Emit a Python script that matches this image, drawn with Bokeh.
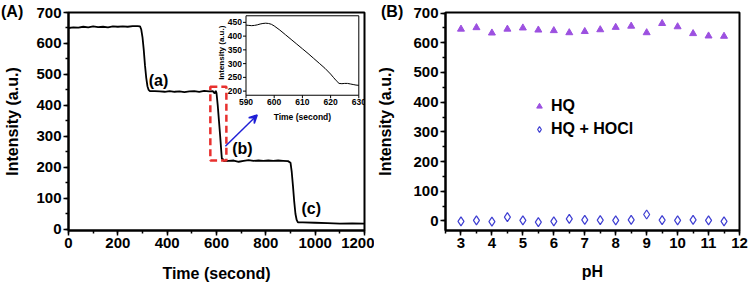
import math
from bokeh.plotting import figure
from bokeh.models import (Range1d, Legend, LegendItem, Arrow, VeeHead,
                          SingleIntervalTicker, GridBox, Div)
from bokeh.core.properties import value
from bokeh.embed import file_html
from bokeh.resources import INLINE

FONT = "Liberation Sans"

# ---------------- data: panel A (time scan) ----------------
time_s = [0, 20, 40, 60, 80, 100, 120, 140, 160, 180, 200, 220, 240, 260, 280, 290,
          295, 300, 305, 310, 315, 320, 325, 330, 350, 370, 390, 410, 430, 450, 470,
          490, 510, 530, 550, 570, 585, 590, 593, 597, 600, 605, 610, 615, 620, 622,
          625, 630, 650, 670, 690, 710, 730, 750, 770, 790, 810, 830, 850, 870, 890,
          900, 905, 910, 915, 920, 925, 930, 950, 1000, 1050, 1100, 1150, 1200]
intensity = [650, 652, 651, 654, 652, 655, 653, 654, 652, 655, 654, 655, 654, 656, 656, 655,
             645, 620, 580, 530, 490, 462, 450, 446, 446, 445, 444, 446, 444, 445, 443,
             445, 446, 444, 447, 445, 446, 441, 439, 447, 440, 400, 350, 300, 245, 226,
             228, 220, 221, 222, 218, 221, 223, 221, 222, 221, 222, 221, 222, 221, 220,
             215, 185, 140, 90, 50, 30, 22, 22, 21, 20, 18, 19, 18]

# inset data (590-630 s)
inset_t = [590, 591, 592, 593, 594, 595, 596, 597, 598, 599, 600, 602, 604, 606, 608,
           610, 612, 614, 616, 618, 620, 621, 622, 623, 624, 625, 626, 627, 628, 629, 630]
inset_i = [440, 439, 438, 439, 441, 444, 446, 447, 446, 443, 437, 422, 405, 388, 371,
           354, 337, 319, 301, 283, 262, 250, 238, 228, 227, 228, 228, 226, 224, 222, 221]
inset_xticks = [590, 600, 610, 620, 630]
inset_yticks = [200, 250, 300, 350, 400, 450]

curve_labels = ["(a)", "(b)", "(c)"]
curve_label_x = [365, 705, 984]
curve_label_y = [482, 262, 66]

# ---------------- data: panel B (pH) ----------------
ph = [3, 3.5, 4, 4.5, 5, 5.5, 6, 6.5, 7, 7.5, 8, 8.5, 9, 9.5, 10, 10.5, 11, 11.5]
hq = [646, 651, 633, 646, 650, 643, 641, 634, 638, 644, 652, 656, 634, 665, 654, 631, 623, 622]
hq_hocl = [-1, 2, -2, 13, 2, -4, -1, 7, 4, 3, 2, 4, 22, 3, 2, 4, 2, -1]

panel_letters = ["(A)", "(B)"]


def style(p):
    p.xgrid.visible = False
    p.ygrid.visible = False
    p.outline_line_color = "black"
    p.outline_line_width = 2
    p.outline_line_alpha = 1
    p.background_fill_color = "white"
    p.border_fill_color = None
    for ax in p.axis:
        ax.axis_line_width = 2
        ax.axis_line_color = "black"
        ax.major_tick_line_width = 1.5
        ax.minor_tick_line_width = 1.5
        ax.major_tick_line_color = "black"
        ax.minor_tick_line_color = "black"
        ax.major_tick_in = 0
        ax.major_tick_out = 5
        ax.minor_tick_in = 0
        ax.minor_tick_out = 3
        ax.major_label_text_font = FONT
        ax.major_label_text_font_style = "bold"
        ax.major_label_text_font_size = "15px"
        ax.major_label_text_color = "black"
        ax.major_label_standoff = 2
        ax.axis_label_text_font = FONT
        ax.axis_label_text_font_style = "bold"
        ax.axis_label_text_font_size = "16px"
        ax.axis_label_text_color = "black"


# ---------------- panel A ----------------
FW, FH = 296, 220
p1 = figure(width=374, height=284, output_backend="svg", toolbar_location=None,
            x_range=Range1d(0, 1200), y_range=Range1d(-4, 700),
            min_border_left=68, min_border_right=10, min_border_top=10, min_border_bottom=54)
style(p1)
p1.xaxis.ticker = SingleIntervalTicker(interval=200, num_minor_ticks=2)
p1.yaxis.ticker = SingleIntervalTicker(interval=100, num_minor_ticks=2)
p1.xaxis.axis_label = "Time (second)"
p1.yaxis.axis_label = "Intensity (a.u.)"
p1.xaxis.axis_label_standoff = 14
p1.yaxis.axis_label_standoff = 12

p1.line(time_s, intensity, line_color="black", line_width=1.8)

# zoom box
p1.quad(left=[575], right=[640], bottom=[222], top=[460], fill_color=None,
        line_color="#e8302e", line_width=2.5, line_dash="7 4")

p1.text(x=curve_label_x, y=curve_label_y, text=curve_labels,
        text_font=value(FONT), text_font_style="bold", text_font_size="16px",
        text_align="center", text_baseline="middle", text_color="black")

p1.add_layout(Arrow(end=VeeHead(size=8, line_color="#1f1fd6", fill_color="#1f1fd6", line_width=1.5),
                    x_start=636, y_start=268, x_end=765, y_end=369,
                    line_color="#1f1fd6", line_width=1.5))

# inset placed through extra ranges (pixel box inside the frame)
IL, IR, IT, IB = 177.5, 290.3, 3.3, 83.5  # px from frame top-left
ix0, ix1 = inset_t[0], inset_t[-1]
iy0, iy1 = 185, 474
sx = (ix1 - ix0) / (IR - IL)
sy = (iy1 - iy0) / (IB - IT)
p1.extra_x_ranges = {"ix": Range1d(ix0 - IL * sx, ix1 + (FW - IR) * sx)}
p1.extra_y_ranges = {"iy": Range1d(iy0 - (FH - IB) * sy, iy1 + IT * sy)}
kw = dict(x_range_name="ix", y_range_name="iy")

p1.quad(left=[ix0], right=[ix1], bottom=[iy0], top=[iy1], fill_color="white",
        line_color="black", line_width=1, **kw)
p1.line(inset_t, inset_i, line_color="black", line_width=1, **kw)
p1.ray(x=inset_xticks, y=[iy0] * len(inset_xticks), length=3, length_units="screen",
       angle=-math.pi / 2, line_color="black", line_width=1, **kw)
p1.ray(x=[ix0] * len(inset_yticks), y=inset_yticks, length=3, length_units="screen",
       angle=math.pi, line_color="black", line_width=1, **kw)
p1.text(x=inset_xticks, y=[iy0] * len(inset_xticks), text=[str(v) for v in inset_xticks],
        y_offset=4, text_align="center", text_baseline="top",
        text_font=value(FONT), text_font_style="bold", text_font_size="8.5px",
        text_color="black", **kw)
p1.text(x=[ix0] * len(inset_yticks), y=inset_yticks, text=[str(v) for v in inset_yticks],
        x_offset=-4, text_align="right", text_baseline="middle",
        text_font=value(FONT), text_font_style="bold", text_font_size="8.5px",
        text_color="black", **kw)
p1.text(x=[(ix0 + ix1) / 2], y=[iy0], text=["Time (second)"], y_offset=17,
        text_align="center", text_baseline="top",
        text_font=value(FONT), text_font_style="bold", text_font_size="8.5px",
        text_color="black", **kw)
p1.text(x=[ix0], y=[(iy0 + iy1) / 2 + 10], text=["Intensity (a.u.)"], x_offset=-25,
        angle=math.pi / 2, text_align="center", text_baseline="middle",
        text_font=value(FONT), text_font_style="bold", text_font_size="8px",
        text_color="black", **kw)

# ---------------- panel B ----------------
p2 = figure(width=375, height=284, output_backend="svg", toolbar_location=None,
            x_range=Range1d(2.5, 12), y_range=Range1d(-32, 702),
            min_border_left=69, min_border_right=10, min_border_top=12, min_border_bottom=51)
style(p2)
p2.xaxis.ticker = SingleIntervalTicker(interval=1, num_minor_ticks=2)
p2.yaxis.ticker = SingleIntervalTicker(interval=100, num_minor_ticks=2)
p2.xaxis.axis_label = "pH"
p2.yaxis.axis_label = "Intensity (a.u.)"
p2.xaxis.axis_label_standoff = 12
p2.yaxis.axis_label_standoff = 16

r_hq = p2.scatter(ph, hq, marker="triangle", size=7, fill_color="#9c50e0",
                  line_color="#9c50e0")
r_ho = p2.scatter(ph, hq_hocl, marker="diamond", size=9, fill_color=None,
                  line_color="#3f3fd2", line_width=1.2)

legend = Legend(items=[LegendItem(label="HQ", renderers=[r_hq]),
                       LegendItem(label="HQ + HOCl", renderers=[r_ho])],
                location=(87, 92), padding=0, margin=0, spacing=5,
                glyph_width=14, glyph_height=14, label_height=14, label_standoff=5,
                label_text_font=FONT, label_text_font_style="bold",
                label_text_font_size="16px", label_text_color="black",
                border_line_color=None, background_fill_alpha=0)
p2.add_layout(legend)


def letter(txt, left):
    return Div(text=txt, width=30, height=20, margin=(3, 0, 0, left),
               styles={"font-family": FONT, "font-weight": "bold", "font-size": "16px",
                       "line-height": "18px", "color": "black", "position": "relative",
                       "z-index": "10"},
               align="start")


divA = letter(panel_letters[0], 1)
divB = letter(panel_letters[1], 7)

grid = GridBox(children=[(p1, 0, 0), (p2, 0, 1), (divA, 0, 0), (divB, 0, 1)],
               spacing=0)
open("out.html", "w").write(file_html(grid, INLINE))
